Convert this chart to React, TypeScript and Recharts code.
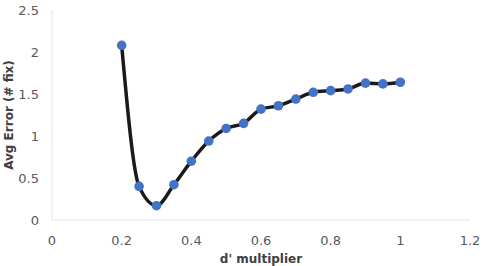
import React from 'react';
import { LineChart, Line, XAxis, YAxis } from 'recharts';

const multipliers = [0.2, 0.25, 0.3, 0.35, 0.4, 0.45, 0.5, 0.55, 0.6, 0.65, 0.7, 0.75, 0.8, 0.85, 0.9, 0.95, 1.0];
const avgErrors = [2.08, 0.4, 0.17, 0.42, 0.7, 0.94, 1.09, 1.15, 1.32, 1.36, 1.44, 1.52, 1.54, 1.56, 1.63, 1.62, 1.64];
const xTicks = [0, 0.2, 0.4, 0.6, 0.8, 1, 1.2];
const yTicks = [0, 0.5, 1, 1.5, 2, 2.5];

const data = multipliers.map((m, i) => ({ x: m, y: avgErrors[i] }));

const FONT = '"DejaVu Sans", sans-serif';
const tickStyle = { fill: '#595959', fontSize: 13, fontFamily: FONT };

export default function App() {
  return (
    <div style={{ position: 'absolute', left: 0, top: 0 }}>
      <LineChart width={488} height={266} data={data} margin={{ top: 10, right: 18, bottom: 0, left: 0 }}>
        <XAxis
          dataKey="x"
          type="number"
          domain={[0, 1.2]}
          ticks={xTicks}
          tickLine={false}
          axisLine={{ stroke: '#e3e3e3' }}
          tick={tickStyle}
          tickMargin={10}
          height={46}
          label={{ value: "d' multiplier", position: 'insideBottom', offset: 3, style: { fill: '#404040', fontSize: 12, fontWeight: 'bold', fontFamily: FONT } }}
        />
        <YAxis
          type="number"
          domain={[0, 2.5]}
          ticks={yTicks}
          tickLine={false}
          axisLine={{ stroke: '#e3e3e3' }}
          tick={tickStyle}
          tickMargin={7}
          width={52}
          label={{ value: 'Avg Error (# fix)', angle: -90, position: 'insideLeft', offset: 9, style: { textAnchor: 'middle', fill: '#404040', fontSize: 12, fontWeight: 'bold', fontFamily: FONT } }}
        />
        <Line
          dataKey="y"
          type="monotone"
          stroke="#1a1a1a"
          strokeWidth={3.5}
          dot={{ r: 4.8, fill: '#4472C4', stroke: 'none' }}
          activeDot={false}
          isAnimationActive={false}
        />
      </LineChart>
    </div>
  );
}
